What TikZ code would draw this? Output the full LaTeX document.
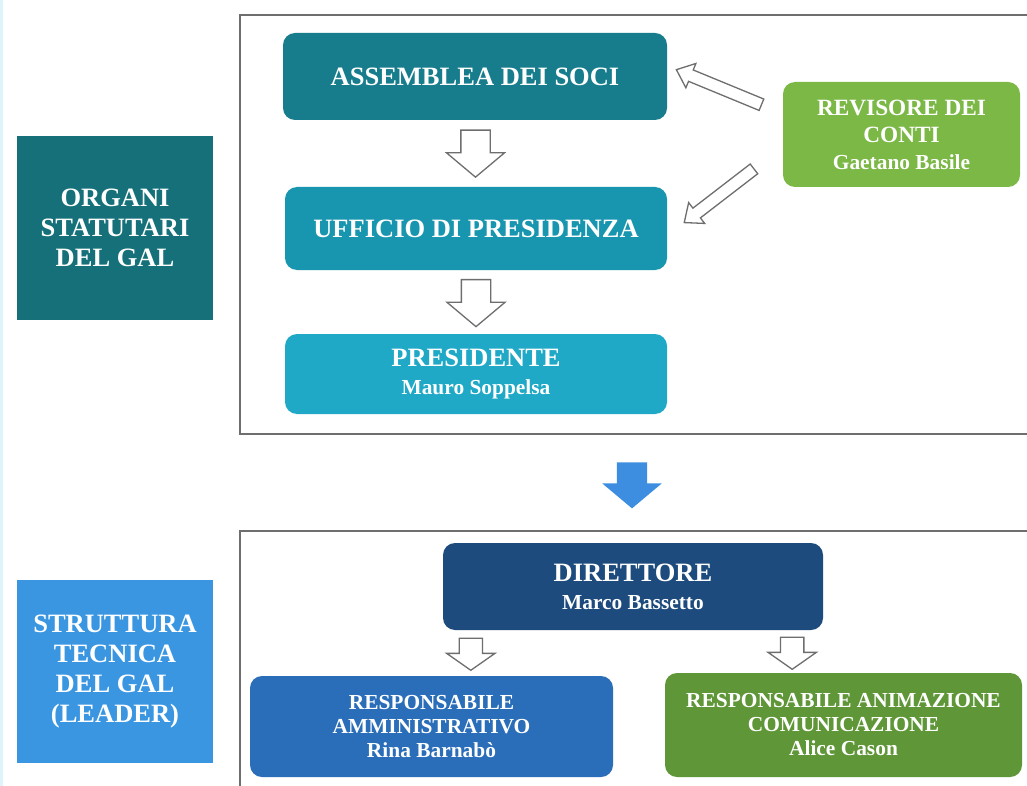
\documentclass[tikz,border=0pt]{standalone}
\usepackage{fontspec}
\setmainfont{Liberation Serif}
\usetikzlibrary{shapes.arrows,calc}

\definecolor{organi}{HTML}{15707A}
\definecolor{assemblea}{HTML}{177D8C}
\definecolor{ufficio}{HTML}{1996AF}
\definecolor{presidente}{HTML}{1FA9C6}
\definecolor{revisore}{HTML}{7BB846}
\definecolor{struttura}{HTML}{3A96E1}
\definecolor{direttore}{HTML}{1E4B7D}
\definecolor{respamm}{HTML}{2A6EB9}
\definecolor{respanim}{HTML}{5F9637}
\definecolor{bluearrow}{HTML}{3D8EE0}
\definecolor{framegray}{HTML}{6E6E6E}
\definecolor{edgecyan}{HTML}{DDF4FA}

\newcommand{\bigfont}{\fontsize{26.5}{30}\selectfont\bfseries}
\newcommand{\namefont}{\fontsize{21.4}{24}\selectfont\bfseries}
\newcommand{\smallfont}{\fontsize{21.4}{24}\selectfont\bfseries}

\begin{document}
\begin{tikzpicture}[x=1pt, y=-1pt,
    box/.style={rounded corners=12pt, text=white, align=center, font=\bigfont, inner sep=0pt},
    side/.style={text=white, align=center, font=\bigfont, inner sep=0pt},
    frame/.style={draw=framegray, line width=2pt},
    hollow/.style={single arrow, draw=framegray, fill=white, line width=1.3pt, inner xsep=0pt, single arrow head indent=0pt}]
        \useasboundingbox (0,0) rectangle (1027,786);
        \clip (0,0) rectangle (1027,786);
        \fill[white] (0,0) rectangle (1027,786);
        \draw[edgecyan, line width=4pt] (1,0) -- (1,786);

        % frames
        \draw[frame] (240,15) rectangle (1045,434);
        \draw[frame] (240,531) rectangle (1045,800);

        % left labels
        \node[side, fill=organi, minimum width=196pt, minimum height=184pt] (organi) at (115,228) {ORGANI\\STATUTARI\\DEL GAL};
        \node[side, fill=struttura, minimum width=196pt, minimum height=183pt] (struttura) at (115,671.5) {STRUTTURA\\TECNICA\\DEL GAL\\(LEADER)};

        % organi statutari
        \node[box, fill=assemblea, minimum width=384pt, minimum height=87pt] (assemblea) at (475,76.5) {ASSEMBLEA DEI SOCI};
        \node[box, fill=ufficio, minimum width=382pt, minimum height=83pt] (ufficio) at (476,228.5) {UFFICIO DI PRESIDENZA};
        \node[box, fill=presidente, minimum width=382pt, minimum height=80pt] (presidente) at (476,374) {PRESIDENTE\\[-2pt]{\namefont Mauro Soppelsa}};
        \node[box, fill=revisore, minimum width=237pt, minimum height=105pt, font=\fontsize{23.3}{27}\selectfont\bfseries] (revisore) at (901.5,134.5) {REVISORE DEI\\CONTI\\{\namefont Gaetano Basile}};

        \node[hollow, inner ysep=14pt, minimum height=47pt, single arrow head extend=14.5pt, single arrow tip angle=100, rotate=270] (a1) at ($(assemblea.south)!0.5!(ufficio.north)+(0,-6)$) {};
        \node[hollow, inner ysep=14pt, minimum height=47pt, single arrow head extend=14.5pt, single arrow tip angle=100, rotate=270] (a2) at ($(ufficio.south)!0.5!(presidente.north)+(0,-5)$) {};
        \node[hollow, inner ysep=5.5pt, minimum height=92pt, single arrow head extend=7pt, single arrow tip angle=80, rotate=157.6] (r1) at (722.3,88.6) {};
        \node[hollow, inner ysep=5.5pt, minimum height=88pt, single arrow head extend=7pt, single arrow tip angle=80, rotate=217.6] (r2) at (722,193.5) {};

        % passaggio alla struttura tecnica
        \node[single arrow, fill=bluearrow, inner xsep=0pt, inner ysep=15pt, minimum height=46pt, single arrow head extend=14.5pt, single arrow tip angle=100, rotate=270] (giu) at (632,479) {};

        % struttura tecnica
        \node[box, fill=direttore, minimum width=380pt, minimum height=87pt] (direttore) at (633,586.5) {DIRETTORE\\[-2pt]{\namefont Marco Bassetto}};
        \node[box, fill=respamm, minimum width=363pt, minimum height=101pt, font=\smallfont] (respamm) at (431.5,726.5) {RESPONSABILE\\AMMINISTRATIVO\\{\namefont Rina Barnabò}};
        \node[box, fill=respanim, minimum width=357pt, minimum height=104pt, font=\smallfont] (respanim) at (843.5,725) {RESPONSABILE ANIMAZIONE\\COMUNICAZIONE\\{\namefont Alice Cason}};

        \node[hollow, inner ysep=11pt, minimum height=32pt, single arrow head extend=12.5pt, single arrow tip angle=110, rotate=270] (d1) at ($(direttore.south west)+(28,20)$) {};
        \node[hollow, inner ysep=11pt, minimum height=32pt, single arrow head extend=12.5pt, single arrow tip angle=110, rotate=270] (d2) at ($(direttore.south east)+(-31,19)$) {};
\end{tikzpicture}
\end{document}
